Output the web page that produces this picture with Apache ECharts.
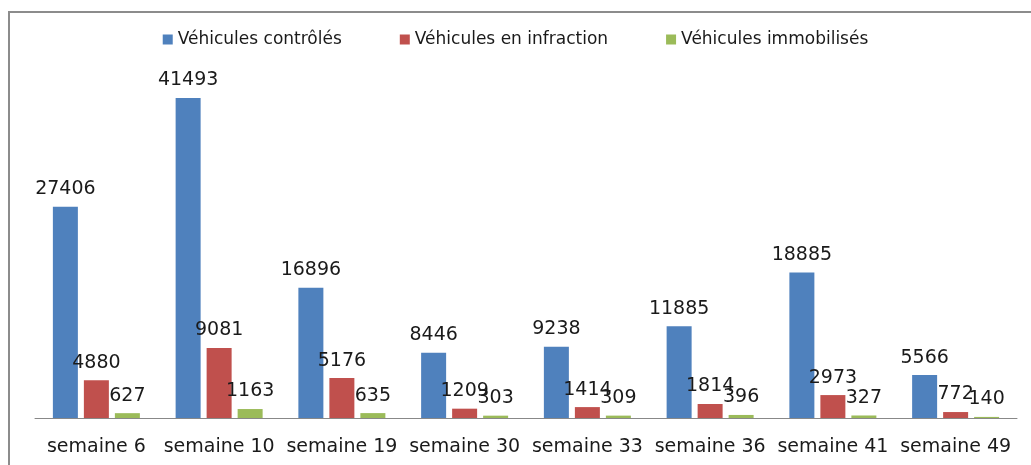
<!DOCTYPE html>
<html>
<head>
<meta charset="utf-8">
<script src="https://cdn.jsdelivr.net/npm/echarts@6/dist/echarts.min.js"></script>
<style>
html,body{margin:0;padding:0;background:#fff;}
#chart{width:1031px;height:465px;}
</style>
</head>
<body>
<div id="chart"></div>
<script>
const categories = ['semaine 6','semaine 10','semaine 19','semaine 30','semaine 33','semaine 36','semaine 41','semaine 49'];
const seriesNames = ['Véhicules contrôlés','Véhicules en infraction','Véhicules immobilisés'];
const controles = [27406, 41493, 16896, 8446, 9238, 11885, 18885, 5566];
const infractions = [4880, 9081, 5176, 1209, 1414, 1814, 2973, 772];
const immobilises = [627, 1163, 635, 303, 309, 396, 327, 140];
const colors = ['#4F81BD', '#C0504D', '#9BBB59'];

const chart = echarts.init(document.getElementById('chart'), null, {renderer: 'canvas'});
const labelStyle = {
  show: true,
  position: 'top',
  distance: 8,
  color: '#1a1a1a',
  fontFamily: 'DejaVu Sans',
  fontSize: 19
};
function mk(name, data, color) {
  return {
    name: name,
    type: 'bar',
    data: data,
    barWidth: 25,
    barGap: '24%',
    itemStyle: {color: color},
    label: labelStyle
  };
}
chart.setOption({
  animation: false,
  backgroundColor: '#fff',
  graphic: [{
    type: 'rect',
    shape: {x: 9, y: 12, width: 1100, height: 600},
    style: {fill: 'none', stroke: '#8c8c8c', lineWidth: 2},
    silent: true
  }],
  legend: {
    top: 26,
    left: 'center',
    itemWidth: 10,
    itemHeight: 10,
    itemGap: 58,
    icon: 'rect',
    textStyle: {fontFamily: 'DejaVu Sans', fontSize: 17, color: '#1a1a1a'},
    data: seriesNames
  },
  grid: {left: 35, right: 14, top: 71, bottom: 47, containLabel: false},
  xAxis: {
    type: 'category',
    data: categories,
    axisTick: {show: false},
    axisLine: {lineStyle: {color: '#888', width: 1}},
    axisLabel: {
      margin: 20,
      color: '#1a1a1a',
      fontFamily: 'DejaVu Sans',
      fontSize: 19,
      interval: 0
    }
  },
  yAxis: {
    type: 'value',
    min: 0,
    max: 45000,
    show: false,
    splitLine: {show: false}
  },
  series: [
    mk(seriesNames[0], controles, colors[0]),
    mk(seriesNames[1], infractions, colors[1]),
    mk(seriesNames[2], immobilises, colors[2])
  ]
});
</script>
</body>
</html>
